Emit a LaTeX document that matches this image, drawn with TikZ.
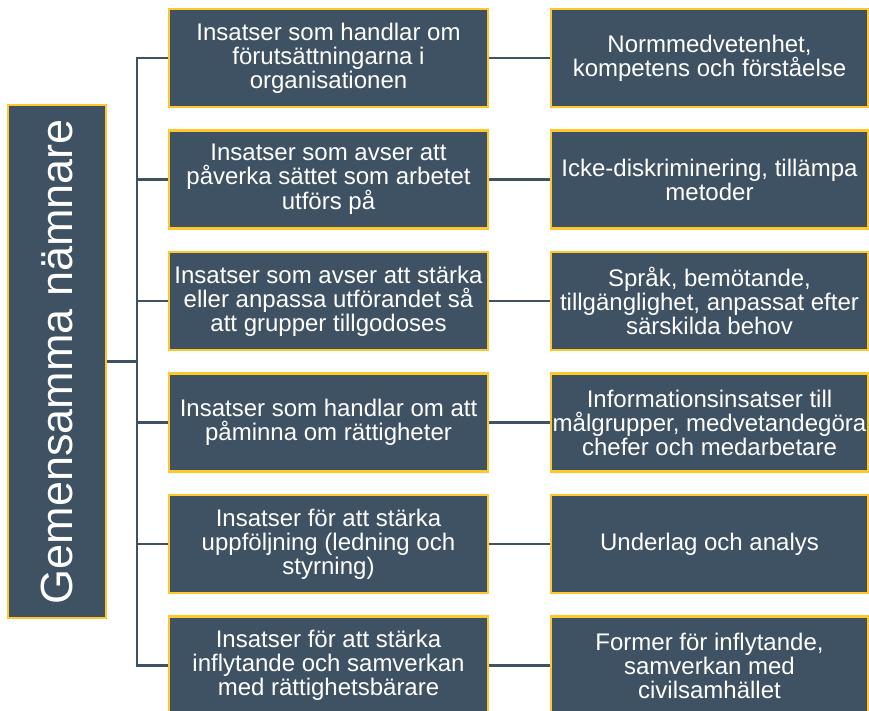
\documentclass[tikz,border=0pt]{standalone}
\usepackage{fontspec}
\setmainfont{Liberation Sans}
\usetikzlibrary{backgrounds}
\definecolor{slate}{HTML}{3F5263}
\definecolor{gold}{HTML}{FFC72C}
\tikzset{
  box/.style={draw=gold, line width=2.5pt, fill=slate, text=white, inner sep=0pt,
    align=center, font=\fontsize{24}{24}\selectfont},
  conn/.style={draw=slate, line width=2.2pt}
}
\begin{document}
\begin{tikzpicture}[x=1pt, y=1pt]
\useasboundingbox (0,0) rectangle (869,711);

\node[box, rotate=90, minimum width=513pt, minimum height=98pt,
  font=\fontsize{45}{45}\selectfont] (root) at (57,349.5) {Gemensamma nämnare};
\coordinate (bus) at (137,349.5);

\foreach \i/\mtext/\rtext in {
  1/{Insatser som handlar om\\förutsättningarna i\\organisationen}/{Normmedvetenhet,\\kompetens och förståelse},
  2/{Insatser som avser att\\påverka sättet som arbetet\\utförs på}/{Icke-diskriminering, tillämpa\\metoder},
  3/{Insatser som avser att stärka\\eller anpassa utförandet så\\att grupper tillgodoses}/{Språk, bemötande,\\tillgänglighet, anpassat efter\\särskilda behov},
  4/{Insatser som handlar om att\\påminna om rättigheter}/{Informationsinsatser till\\målgrupper, medvetandegöra\\chefer och medarbetare},
  5/{Insatser för att stärka\\uppföljning (ledning och\\styrning)}/{Underlag och analys},
  6/{Insatser för att stärka\\inflytande och samverkan\\med rättighetsbärare}/{Former för inflytande,\\samverkan med\\civilsamhället}}
{
    \node[box, minimum width=319pt, minimum height=98pt] (mid\i) at (328.5,{653-(\i-1)*121.5}) {\mtext};
    \node[box, minimum width=317pt, minimum height=98pt] (res\i) at (709.5,{653-(\i-1)*121.5}) {\rtext};
}

% connectors behind the boxes
\begin{scope}[on background layer]
\draw[conn] (root.south) -- (bus);
\foreach \i in {1,...,6}
{
    \draw[conn] (mid\i.west) -| (bus);
    \draw[conn] (mid\i.east) -- (res\i.west);
}
\end{scope}

\end{tikzpicture}
\end{document}
